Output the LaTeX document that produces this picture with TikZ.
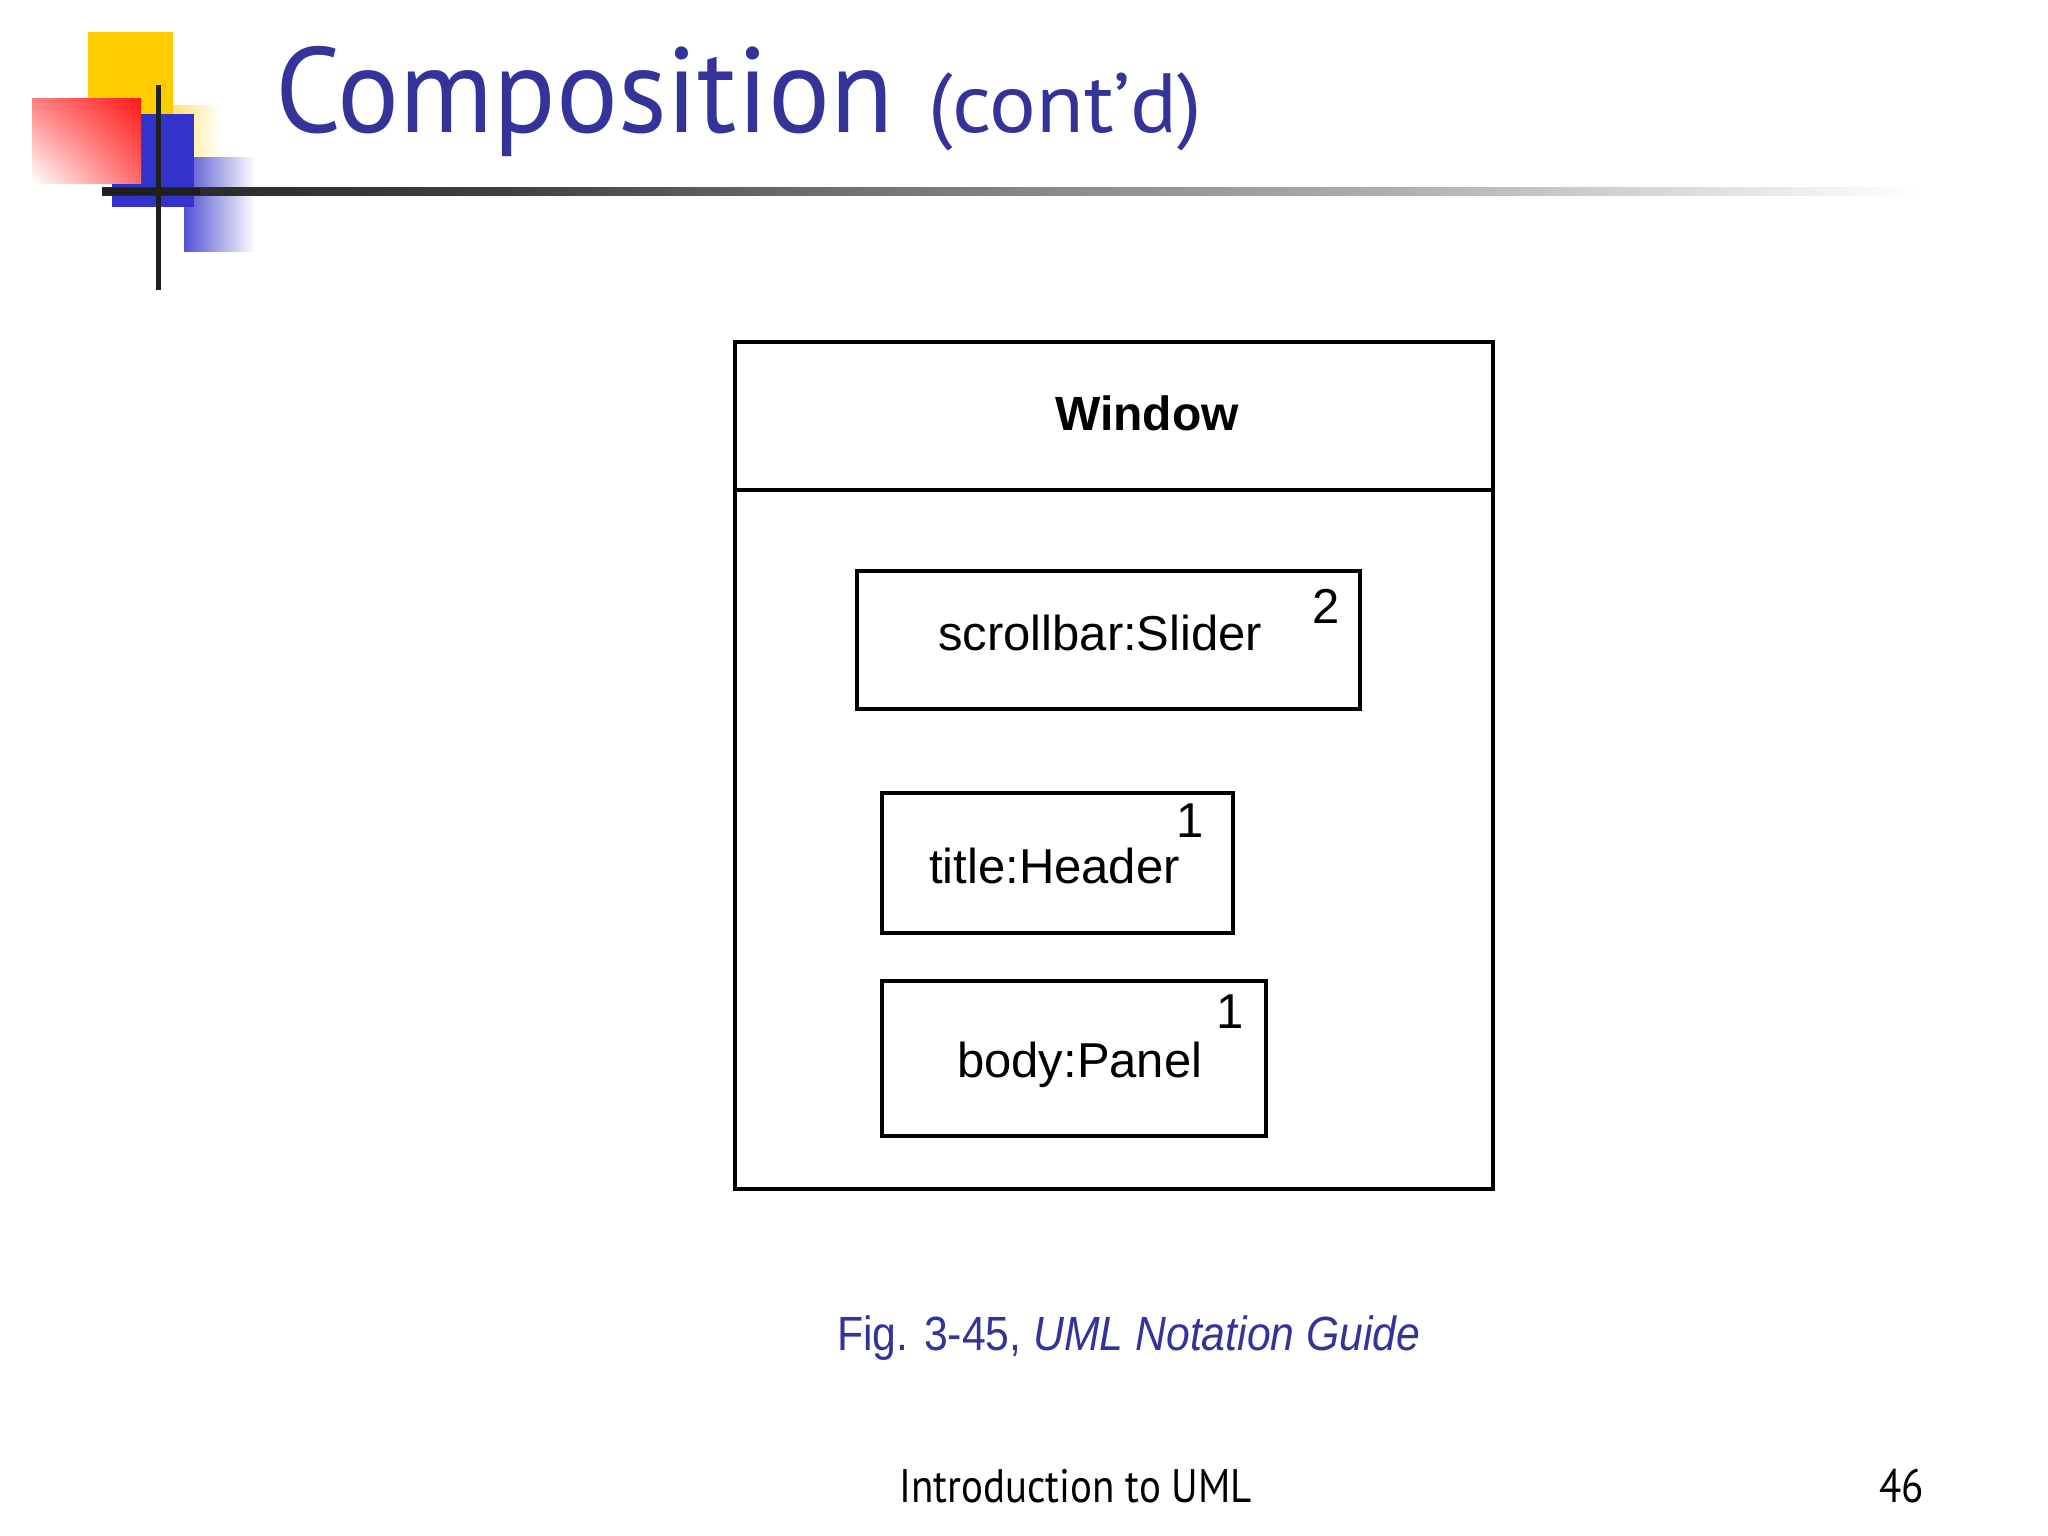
\documentclass[tikz,border=0pt]{standalone}
\usepackage{fontspec}
\setmainfont{Liberation Sans}
\newfontfamily\titlefont{PT Sans}
\usetikzlibrary{positioning,shadings}
\definecolor{slideblue}{HTML}{333399}
\definecolor{logoyellow}{HTML}{FFCC00}
\definecolor{logoblue}{HTML}{3333CC}
\definecolor{logored}{HTML}{FF1A1A}
\pgfdeclarehorizontalshading{ruleshade}{100bp}{color(0bp)=(black!84); color(25bp)=(black!84); color(27.7bp)=(black!83); color(36bp)=(black!75); color(44.2bp)=(black!58); color(52.4bp)=(black!44); color(60.7bp)=(black!31); color(66.2bp)=(black!19); color(71.7bp)=(black!7); color(75bp)=(white); color(100bp)=(white)}
\tikzset{
  umlbox/.style={draw=black, line width=3.6pt},
  lbl/.style={inner sep=0pt, font=\fontsize{49}{49}\selectfont, anchor=base west},
  mult/.style={inner sep=0pt, font=\fontsize{49}{49}\selectfont, anchor=base},
}
\begin{document}
\begin{tikzpicture}[x=1pt,y=-1pt]
\useasboundingbox (0,0) rectangle (2048,1536);
\fill[white] (0,0) rectangle (2048,1536);
% logo
\fill[logoyellow] (88,32) rectangle (173,140);
\shade[left color=logoyellow!55, right color=white] (173,106) rectangle (220,157);
\shade[left color=logoblue!85, right color=white] (184,158) rectangle (255,251);
\fill[logoblue] (112,114) rectangle (194,207);
\shade[upper left=logored!55, upper right=logored, lower left=white, lower right=logored!65] (32,99) rectangle (141,183);
% rule
\shade[shading=ruleshade] (102,187) rectangle (1920,195);
\fill[black!88] (156,85) rectangle (161,290);
\fill[black!88] (102,188) rectangle (200,195);
% title
\node[inner sep=0pt, anchor=base west, text=slideblue, font=\titlefont\fontsize{121}{121}\selectfont] (title) at (275,132) {\scalebox{0.957}[1]{Composition}};
\node[inner sep=0pt, anchor=base west, text=slideblue, font=\titlefont\fontsize{84}{84}\selectfont] (cont) at (928,132) {\scalebox{1.04}[1]{(cont’d)}};
% Window composite
\draw[umlbox] (735,342) rectangle (1493,1189);
\coordinate (divl) at (735,490);
\coordinate (divr) at (1493,490);
\draw[umlbox] (divl) -- (divr);
\node[inner sep=0pt, font=\bfseries\fontsize{48}{48}\selectfont, anchor=base] (win) at (1147,430) {Window};
\draw[umlbox] (857,571) rectangle (1360,709);
\node[lbl] (slider) at (938,650) {scrollbar:Slider};
\node[mult] (m2) at (1326,623) {2};
\draw[umlbox] (882,793) rectangle (1233,933);
\node[lbl] (header) at (929,883) {title:Header};
\node[mult] (m1a) at (1190,837) {1};
\draw[umlbox] (882,981) rectangle (1266,1136);
\node[lbl] (panel) at (957,1077) {body:Panel};
\node[mult] (m1b) at (1230,1028) {1};
% caption
\node[inner sep=0pt, anchor=base west, text=slideblue, font=\fontsize{48}{48}\selectfont] (cap) at (837,1350) {\scalebox{0.89}[1]{Fig. 3-45, \itshape UML Notation Guide}};
% footer
\node[inner sep=0pt, anchor=base west, font=\titlefont\fontsize{47}{47}\selectfont] (foot) at (899,1502) {\scalebox{0.87}[1]{Introduction to UML}};
\node[inner sep=0pt, anchor=base east, font=\titlefont\fontsize{47}{47}\selectfont] (page) at (1924,1502) {\scalebox{0.87}[1]{46}};
\end{tikzpicture}
\end{document}
